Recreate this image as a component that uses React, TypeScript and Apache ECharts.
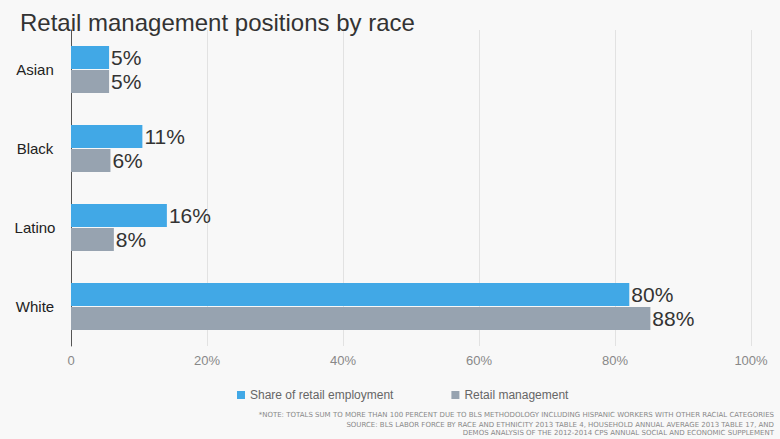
import React, { useEffect, useRef } from "react";
import * as echarts from "echarts";

const categories = ["Asian", "Black", "Latino", "White"];
// bar lengths as drawn in the picture (percent)
const employmentValues = [5.6, 10.5, 14.1, 82.1];
const managementValues = [5.6, 5.8, 6.3, 85.2];
// labels as printed in the picture
const employmentLabels = ["5%", "11%", "16%", "80%"];
const managementLabels = ["5%", "6%", "8%", "88%"];
const seriesNames = ["Share of retail employment", "Retail management"];
const xTicks = [0, 20, 40, 60, 80, 100];
const footnotes = [
  "*NOTE: TOTALS SUM TO MORE THAN 100 PERCENT DUE TO BLS METHODOLOGY INCLUDING HISPANIC WORKERS WITH OTHER RACIAL CATEGORIES",
  "SOURCE: BLS LABOR FORCE BY RACE AND ETHNICITY 2013 TABLE 4, HOUSEHOLD ANNUAL AVERAGE 2013 TABLE 17, AND",
  "DEMOS ANALYSIS OF THE 2012-2014 CPS ANNUAL SOCIAL AND ECONOMIC SUPPLEMENT",
];
const footnoteTops = [411, 421.5, 429];

const FONT = "'Liberation Sans', Arial, sans-serif";

export default function App() {
  const ref = useRef<HTMLDivElement>(null);
  useEffect(() => {
    if (!ref.current) return;
    const chart = echarts.init(ref.current, null, { renderer: "svg" });
    chart.setOption({
      animation: false,
      backgroundColor: "#f8f8f8",
      title: {
        text: "Retail management positions by race",
        left: 15,
        top: 5,
        textStyle: { fontFamily: FONT, fontSize: 24, fontWeight: "normal", color: "#333" },
      },
      legend: {
        top: 384,
        left: 232,
        itemWidth: 8,
        itemHeight: 8,
        itemGap: 58,
        icon: "rect",
        textStyle: { fontFamily: FONT, fontSize: 12, color: "#666" },
        data: seriesNames,
      },
      grid: { left: 71, right: 29, top: 30, height: 316 },
      xAxis: {
        type: "value",
        min: 0,
        max: 100,
        interval: 20,
        axisLine: { show: false },
        axisTick: { show: false },
        splitLine: { show: true, lineStyle: { color: "#e2e2e2", width: 1 } },
        axisLabel: {
          fontFamily: FONT,
          fontSize: 13,
          color: "#888",
          margin: 8,
          formatter: (v: number) => (xTicks.indexOf(v) >= 0 ? (v === 0 ? "0" : v + "%") : ""),
        },
      },
      yAxis: {
        type: "category",
        inverse: true,
        data: categories,
        axisLine: { show: true, lineStyle: { color: "#555", width: 1 } },
        axisTick: { show: false },
        axisLabel: {
          fontFamily: FONT,
          fontSize: 15,
          color: "#222",
          align: "center",
          margin: 36,
        },
      },
      series: [
        {
          name: seriesNames[0],
          type: "bar",
          data: employmentValues,
          barWidth: 23,
          barGap: "4%",
          itemStyle: { color: "#41a8e6" },
          label: {
            show: true,
            position: "right",
            distance: 2,
            fontFamily: FONT,
            fontSize: 21,
            color: "#333",
            formatter: (p: any) => employmentLabels[p.dataIndex],
          },
        },
        {
          name: seriesNames[1],
          type: "bar",
          data: managementValues,
          barWidth: 23,
          barGap: "4%",
          itemStyle: { color: "#97a3b0" },
          label: {
            show: true,
            position: "right",
            distance: 2,
            fontFamily: FONT,
            fontSize: 21,
            color: "#333",
            formatter: (p: any) => managementLabels[p.dataIndex],
          },
        },
      ],
      graphic: footnotes.map((t, i) => ({
        type: "text",
        right: 6,
        top: footnoteTops[i],
        style: {
          text: t,
          fontFamily: "'DejaVu Sans', sans-serif",
          fontSize: 7,
          fill: "#888",
        },
      })),
    });
    return () => chart.dispose();
  }, []);
  return (
    <div
      ref={ref}
      style={{ position: "absolute", left: 0, top: 0, width: 780, height: 439, background: "#f8f8f8" }}
    />
  );
}
